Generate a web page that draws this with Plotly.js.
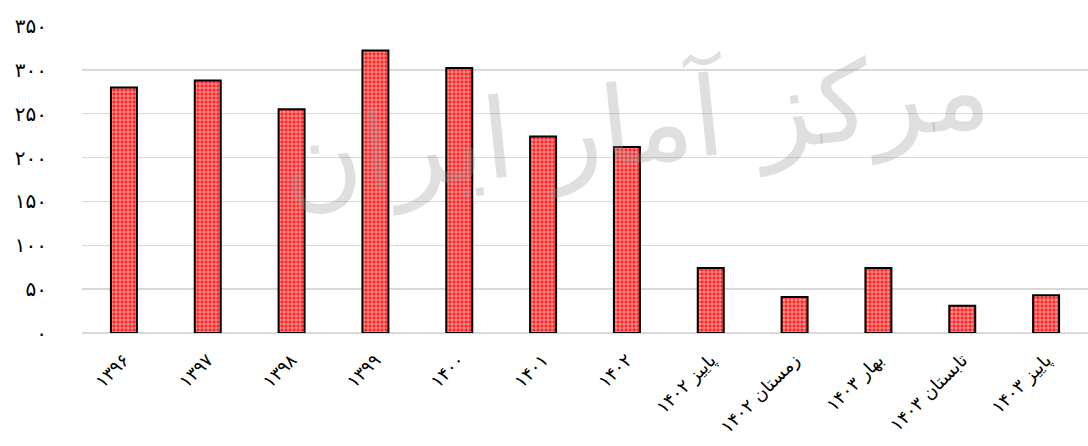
<!DOCTYPE html>
<html>
<head>
<meta charset="utf-8">
<script src="https://cdn.plot.ly/plotly-3.0.1.min.js"></script>
<style>html,body{margin:0;padding:0;background:#fff;}#chart{width:1088px;height:446px;}</style>
</head>
<body>
<div id="chart"></div>
<script>
const categories = ["۱۳۹۶","۱۳۹۷","۱۳۹۸","۱۳۹۹","۱۴۰۰","۱۴۰۱","۱۴۰۲","پاییز ۱۴۰۲","زمستان ۱۴۰۲","بهار ۱۴۰۳","تابستان ۱۴۰۳","پاییز ۱۴۰۳"];
const values = [280, 288, 255, 322, 302, 224, 212, 74, 41, 74, 31, 43];
const yTickVals = [0, 50, 100, 150, 200, 250, 300, 350];
const yTickText = ["۰","۵۰","۱۰۰","۱۵۰","۲۰۰","۲۵۰","۳۰۰","۳۵۰"];
const watermark = "مرکز آمار ایران";

const trace = {
  type: "bar",
  x: categories,
  y: values,
  width: 0.31,
  marker: {
    color: "#ff0000",
    line: {color: "#000000", width: 2},
    pattern: {shape: ".", fgcolor: "#ffffff", bgcolor: "#ff1a1a", size: 4, solidity: 0.6, fillmode: "overlay"}
  },
  hoverinfo: "none"
};

const layout = {
  width: 1088,
  height: 446,
  margin: {l: 82, r: 0, t: 26, b: 113},
  paper_bgcolor: "#ffffff",
  plot_bgcolor: "#ffffff",
  showlegend: false,
  font: {family: "DejaVu Sans, sans-serif", color: "#000000"},
  xaxis: {
    type: "category",
    tickangle: -45,
    tickfont: {size: 18, color: "#000000"},
    showgrid: false,
    showline: false,
    ticks: "",
    ticklabelstandoff: 12,
    automargin: false,
    fixedrange: true
  },
  yaxis: {
    range: [0, 350],
    tickvals: yTickVals,
    ticktext: yTickText,
    tickfont: {size: 20, color: "#000000"},
    showgrid: true,
    gridcolor: "#d9d9d9",
    gridwidth: 1.5,
    zeroline: true,
    zerolinecolor: "#d9d9d9",
    zerolinewidth: 1.5,
    showline: false,
    ticks: "",
    ticklabelstandoff: 34,
    automargin: false,
    fixedrange: true
  },
  annotations: [{
    text: watermark,
    xref: "paper", yref: "paper",
    x: 0.55, y: 0.68,
    xanchor: "center", yanchor: "middle",
    showarrow: false,
    textangle: -6,
    font: {family: "DejaVu Sans, sans-serif", size: 110, color: "rgba(150,150,150,0.3)"}
  }]
};

Plotly.newPlot("chart", [trace], layout, {displayModeBar: false, staticPlot: true});
</script>
</body>
</html>
